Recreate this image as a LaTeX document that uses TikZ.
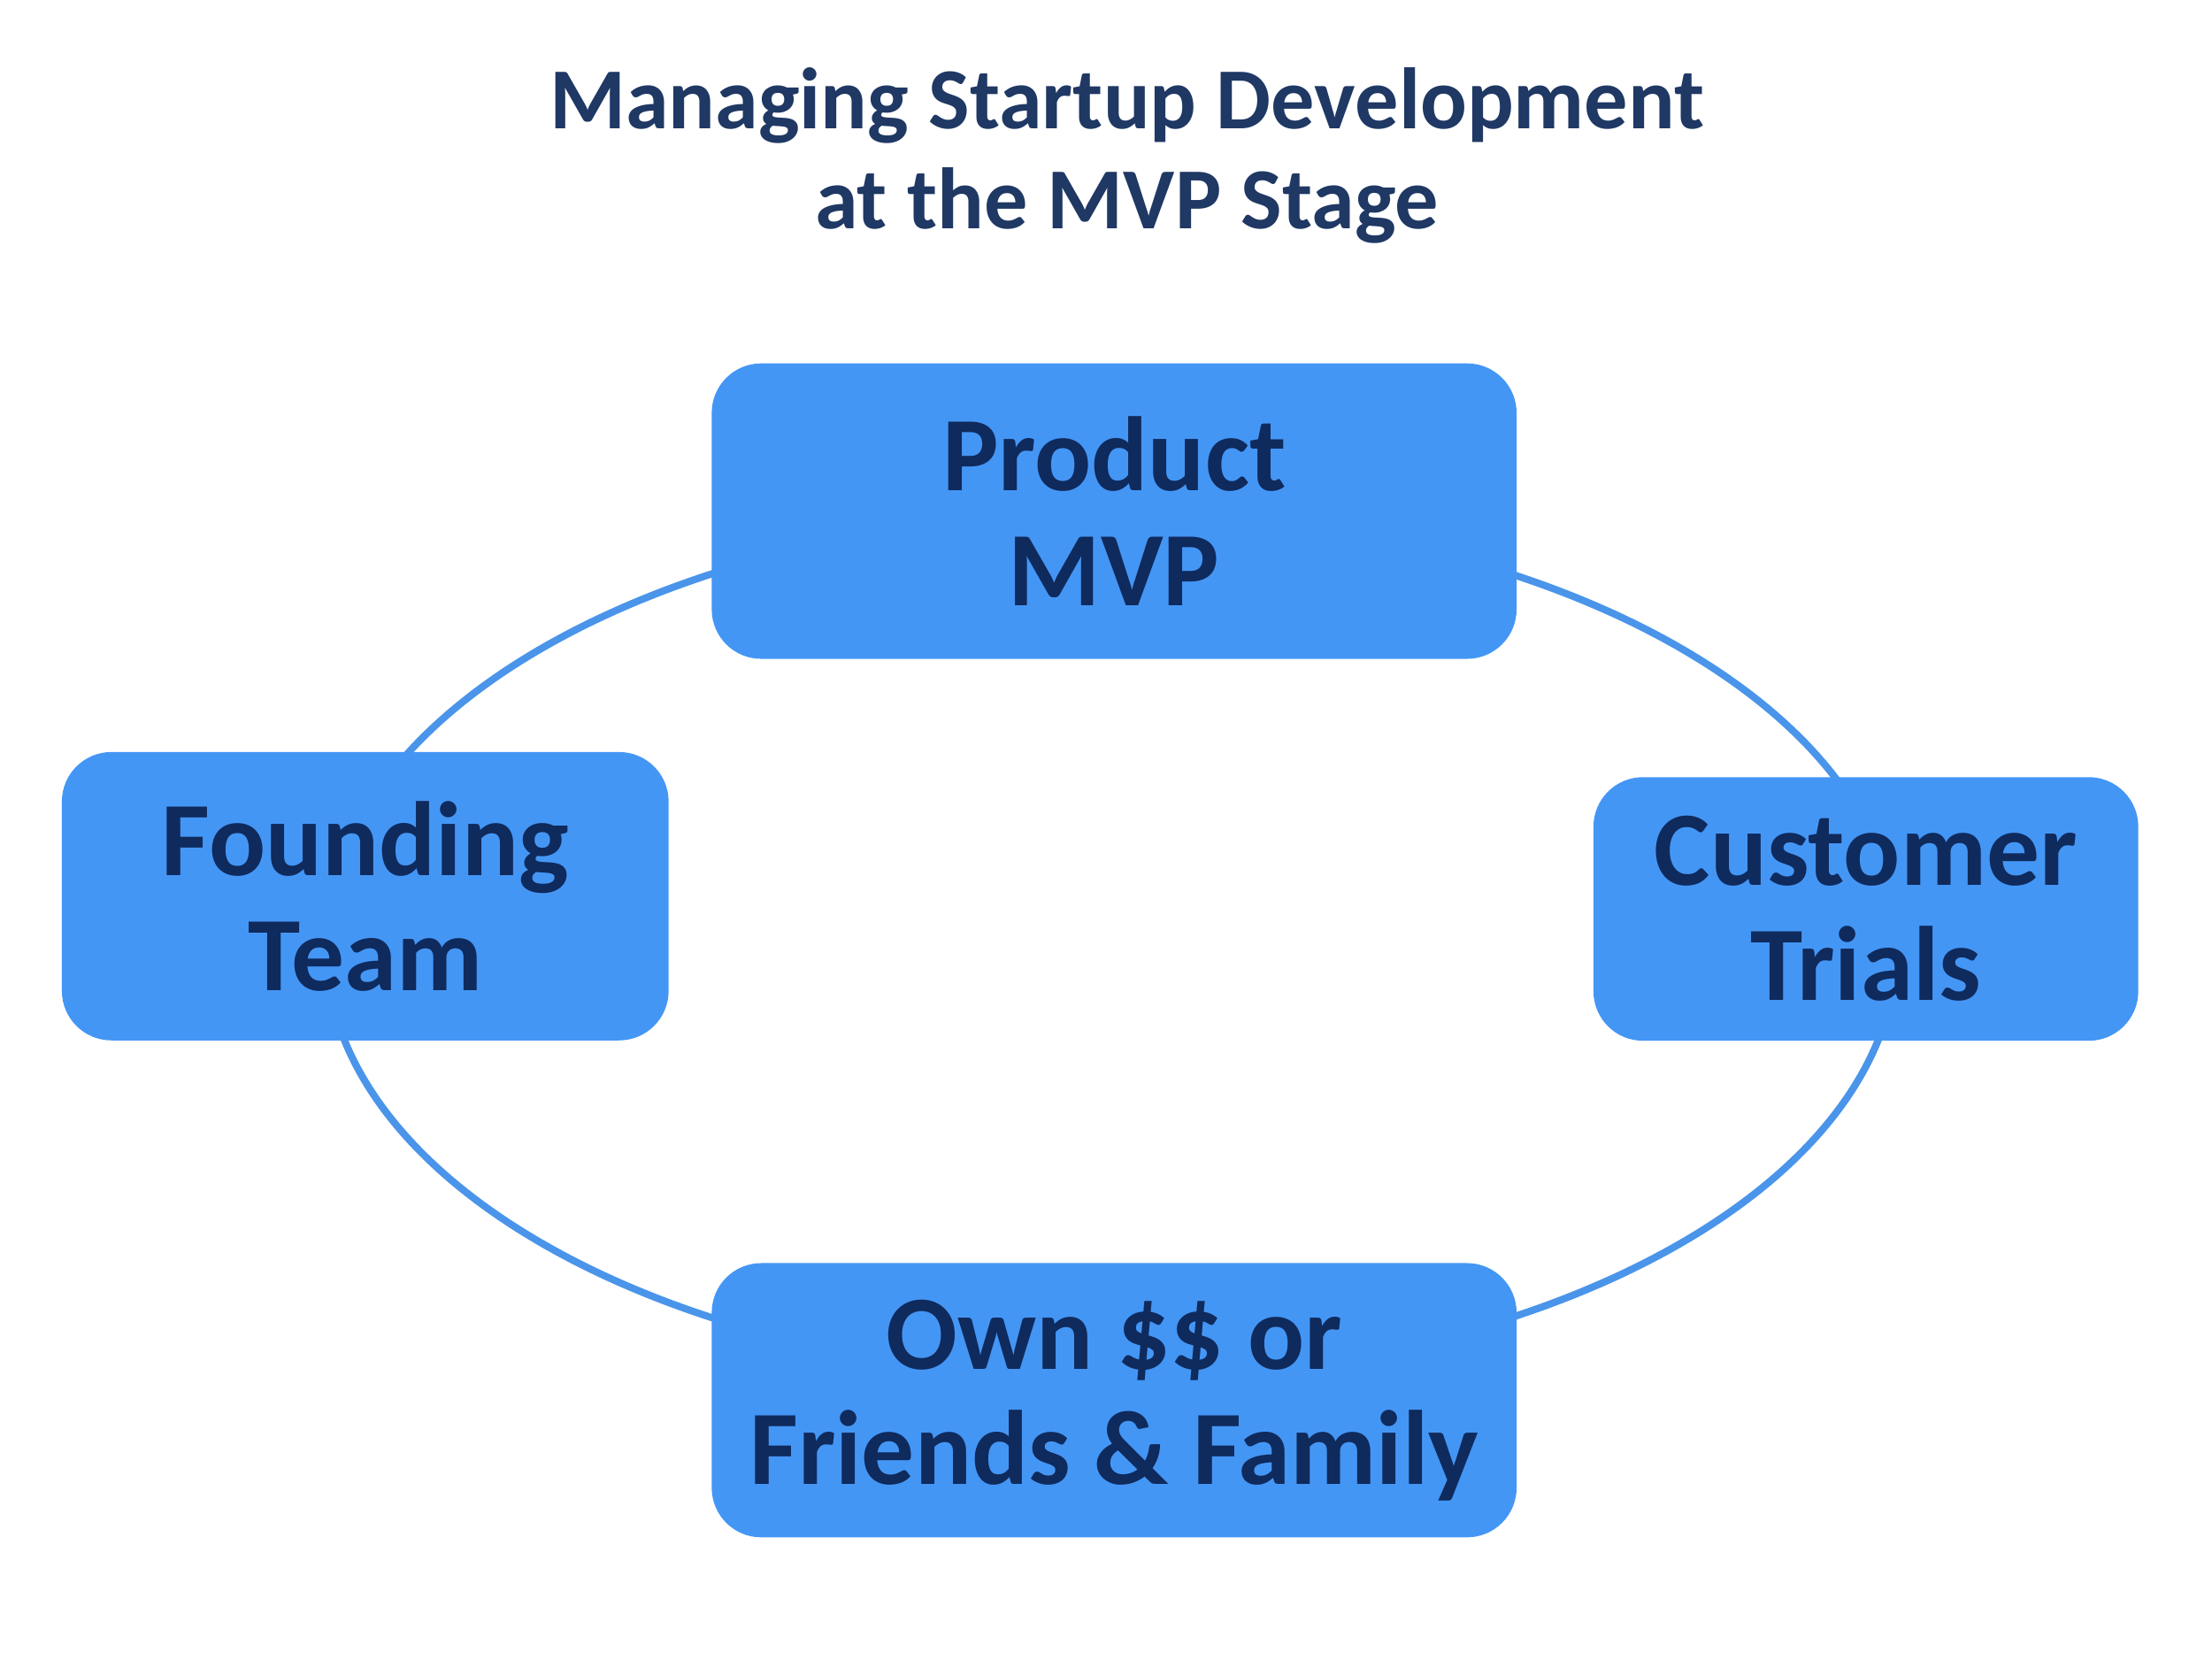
\documentclass[tikz,border=0pt]{standalone}
\usepackage{fontspec}
\setmainfont{Carlito}
\definecolor{boxblue}{HTML}{4496F5}
\definecolor{ringblue}{HTML}{4A95EA}
\definecolor{textnavy}{HTML}{0F2A5C}
\definecolor{titlenavy}{HTML}{1F3864}
\tikzset{
  stagebox/.style={fill=boxblue, rounded corners=0.56cm, inner sep=0pt, align=center,
    text=textnavy, font=\fontsize{34}{37}\selectfont\bfseries},
}
\begin{document}
\begin{tikzpicture}[x=0.016cm,y=-0.016cm]
	\useasboundingbox (0,0) rectangle (1562.5,1171.9);
	% ring behind the boxes
	\draw[ringblue, line width=2.3pt] (785,668) ellipse [x radius=555, y radius=305];
	\node[stagebox, minimum width=9.1cm, minimum height=3.34cm] (product) at (787,361) {Product\\MVP};
	\node[stagebox, minimum width=6.86cm, minimum height=3.26cm] (founding) at (258,633) {Founding\\Team};
	\node[stagebox, minimum width=6.16cm, minimum height=2.98cm] (customer) at (1318,642) {Customer\\Trials};
	\node[stagebox, minimum width=9.1cm, minimum height=3.1cm] (funding) at (787,989) {Own \$\$ or\\Friends \& Family};
	% title
	\node[align=center, text=titlenavy, font=\fontsize{28}{32}\selectfont\bfseries] (title) at (796,110)
		{Managing Startup Development\\at the MVP Stage};
\end{tikzpicture}
\end{document}
